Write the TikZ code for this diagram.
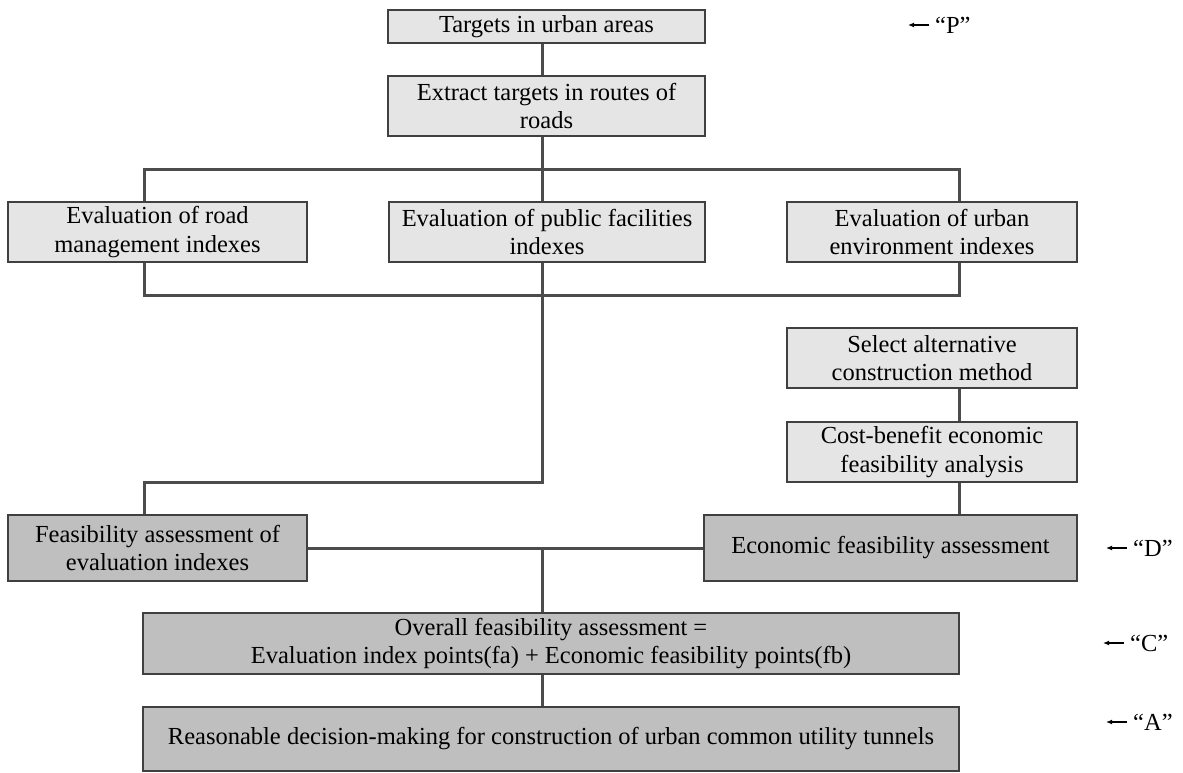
\documentclass[tikz,border=0pt]{standalone}
\usepackage{fontspec}
\setmainfont{Liberation Serif}
\usetikzlibrary{backgrounds,arrows.meta}

\begin{document}
\begin{tikzpicture}[x=1pt,y=-1pt,
  every node/.style={font=\fontsize{24.5}{28.5}\selectfont,align=center,inner sep=0pt},
  lightbox/.style={draw=black!75,line width=1.5pt,fill=black!10},
  darkbox/.style={draw=black!75,line width=1.5pt,fill=black!25},
  link/.style={draw=black!70,line width=3pt},
  tag node/.style={anchor=west},
  tag arrow/.style={-{Latex[length=6pt,width=5pt]},line width=1.2pt}]
  \useasboundingbox (0,0) rectangle (1183,773);
  % light boxes
  \node[lightbox,minimum width=317pt,minimum height=33pt](urban) at (546.5,26.5) {Targets in urban areas};
  \node[lightbox,minimum width=317pt,minimum height=60pt](extract) at (546.5,106) {Extract targets in routes of\\roads};
  \node[lightbox,minimum width=299pt,minimum height=60pt](evroad) at (157.5,232) {Evaluation of road\\management indexes};
  \node[lightbox,minimum width=316pt,minimum height=60pt](evpub) at (547,232) {Evaluation of public facilities\\indexes};
  \node[lightbox,minimum width=290pt,minimum height=60pt](evenv) at (932,232) {Evaluation of urban\\environment indexes};
  \node[lightbox,minimum width=290pt,minimum height=60pt](select) at (932,358) {Select alternative\\construction method};
  \node[lightbox,minimum width=290pt,minimum height=60pt](cost) at (932,452) {Cost-benefit economic\\feasibility analysis};
  % dark boxes
  \node[darkbox,minimum width=299pt,minimum height=66pt](feas) at (157.5,548) {Feasibility assessment of\\evaluation indexes};
  \node[darkbox,minimum width=373pt,minimum height=66pt](econ) at (890.5,548) {Economic feasibility assessment};
  \node[darkbox,minimum width=816pt,minimum height=61pt](overall) at (551,643.5) {Overall feasibility assessment =\\Evaluation index points(fa) + Economic feasibility points(fb)};
  \node[darkbox,minimum width=816pt,minimum height=64pt](decide) at (551,739) {Reasonable decision-making for construction of urban common utility tunnels};
  % step tags
  \node[tag node](tagP) at (935,25) {“P”};
  \node[tag node](tagD) at (1133,548) {“D”};
  \node[tag node](tagC) at (1130,643) {“C”};
  \node[tag node](tagA) at (1133,722) {“A”};
  \foreach \t in {P,D,C,A}{
    \draw[tag arrow] ([xshift=-6pt]tag\t.west) -- ++(-21,0);
  }

  \coordinate (barNW) at (144,169);
  \coordinate (barSE) at (959,295);
  \coordinate (turn) at (542,482);
  \begin{scope}[on background layer]
    \draw[link] (urban.south -| turn) -- (extract.north -| turn);
    \draw[link] (barNW) rectangle (barSE);
    \draw[link] (extract.south -| turn) -- (turn) -| (feas.north -| barNW);
    \draw[link] (select.south -| barSE) -- (cost.north -| barSE);
    \draw[link] (cost.south -| barSE) -- (econ.north -| barSE);
    \draw[link] (feas) -- (econ);
    \draw[link] (feas.east -| turn) -- (overall.north -| turn);
    \draw[link] (overall.south -| turn) -- (decide.north -| turn);
  \end{scope}
\end{tikzpicture}
\end{document}
